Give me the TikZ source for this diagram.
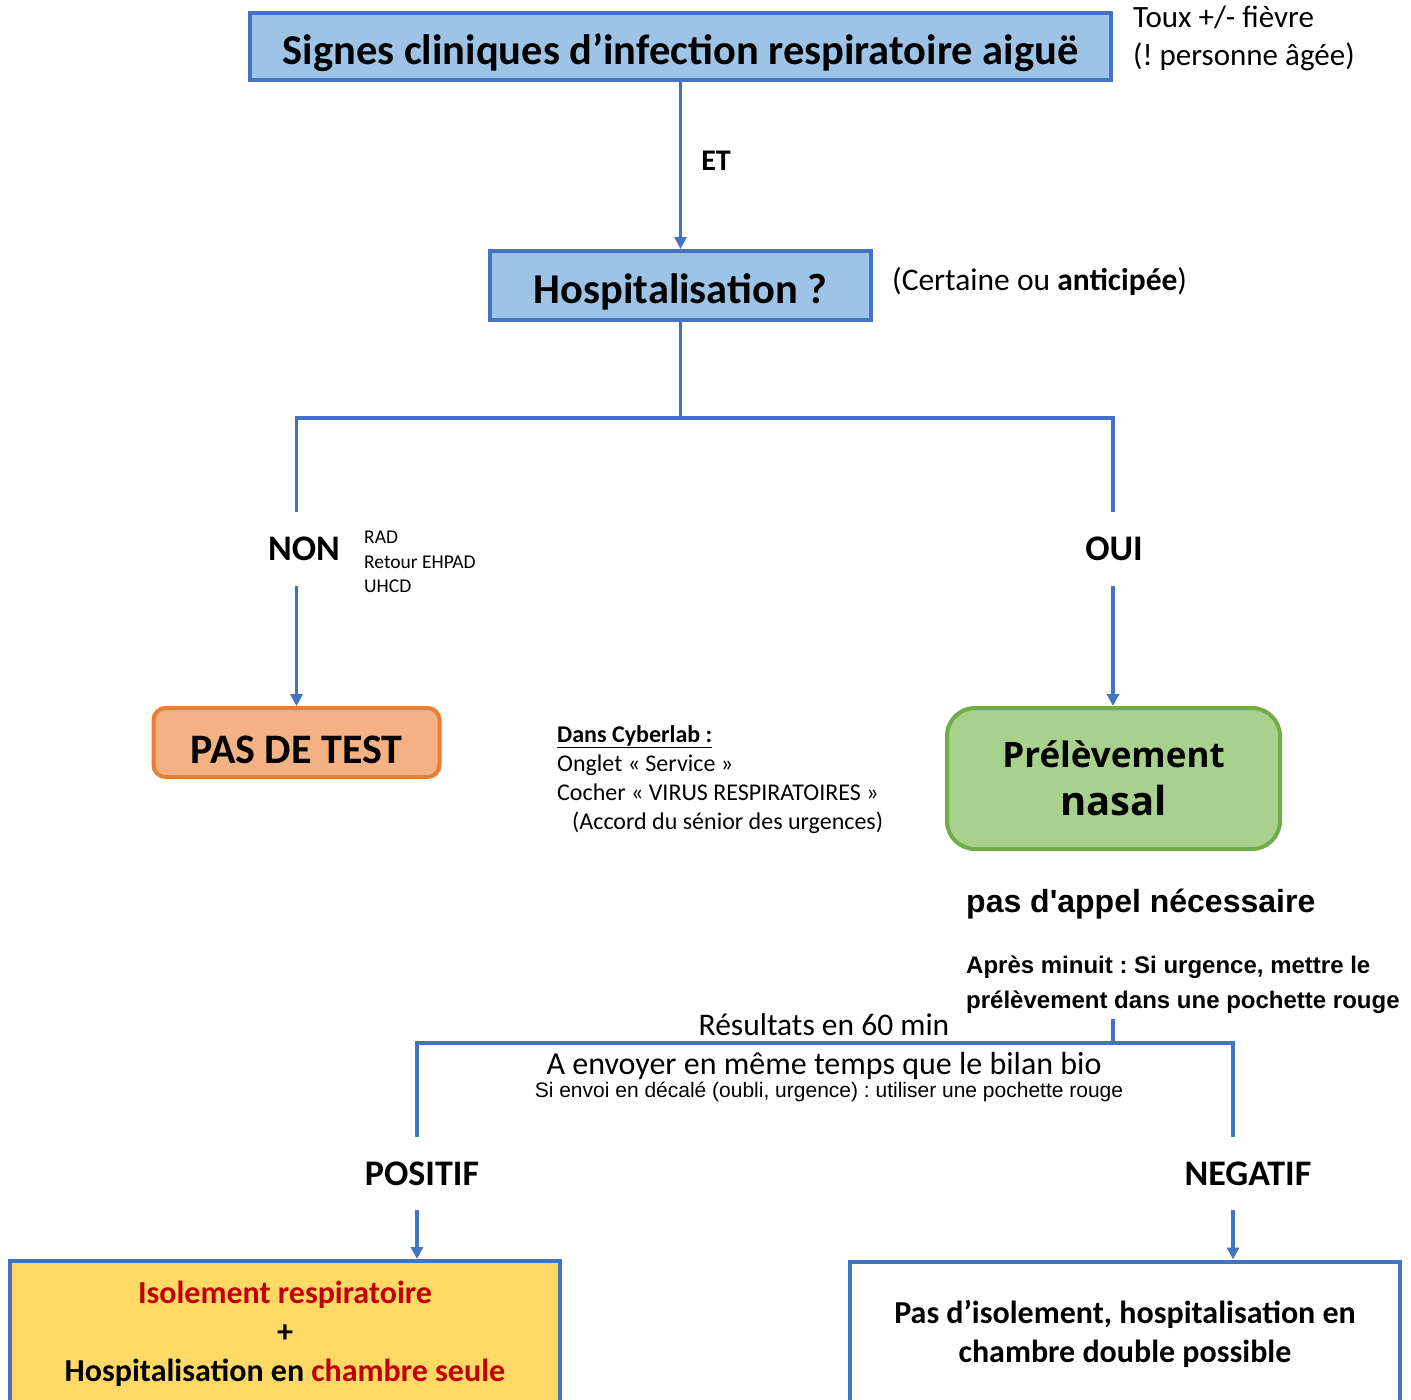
\documentclass[tikz,border=0pt]{standalone}
\usepackage{fontspec}
\setmainfont{Carlito}
\newfontfamily\arialf{Liberation Sans}
\newfontfamily\notof{Open Sans}
\usetikzlibrary{arrows.meta,calc}
\definecolor{cblue}{HTML}{4472C4}
\definecolor{lblue}{HTML}{9DC3E6}
\definecolor{corange}{HTML}{ED7D31}
\definecolor{lorange}{HTML}{F4B183}
\definecolor{cgreen}{HTML}{70AD47}
\definecolor{lgreen}{HTML}{A9D18E}
\definecolor{lyellow}{HTML}{FFD966}
\definecolor{cred}{HTML}{C00000}
\newcommand{\fsz}[2]{\fontsize{#1}{#2}\selectfont}
\frenchspacing
\begin{document}
\begin{tikzpicture}[x=1pt,y=-1pt,
  conn/.style={draw=cblue, line width=3.5pt},
  arr/.style={conn, -{Triangle[width=12pt,length=12pt]}},
  bluebox/.style={draw=cblue, fill=lblue, line width=4pt, inner sep=0pt, text height=35pt, text depth=0pt, font=\bfseries\fsz{42.5}{50}},
  lbl/.style={inner sep=0pt},
  branch/.style={inner sep=0pt, minimum height=74pt, font=\bfseries\fsz{36}{42}},
  outbox/.style={draw=cblue, line width=4pt, inner sep=0pt, minimum width=550pt, minimum height=145pt, align=center, font=\bfseries\fsz{32}{39}}
]
\useasboundingbox (0,0) rectangle (1411,1400);

% top box
\node[bluebox, minimum width=861pt, minimum height=67pt] (signes) at (680.5,46.5) {Signes cliniques d’infection respiratoire aiguë};
\node[lbl, anchor=west, align=left, font=\fsz{31}{38}] (toux) at (1133,38.5) {Toux +/- fièvre\\(! personne âgée)};

% hospitalisation
\node[bluebox, minimum width=381pt, minimum height=69pt] (hosp) at (680.5,285.5) {Hospitalisation ?};
\node[lbl, anchor=west, font=\fsz{31.5}{38}] (cert) at (892,281) {(Certaine ou \textbf{anticipée})};
\draw[arr] (signes.south) -- node[lbl, anchor=west, xshift=19pt, yshift=5pt, font=\bfseries\fsz{30}{36}] (et) {ET} (hosp.north);

% first branch
\coordinate (bj) at (680.5,418);
\coordinate (bl) at (296.5,418);
\coordinate (br) at (1113,418);
\node[branch] (non) at (304,549) {NON};
\node[branch] (oui) at (1114,549) {OUI};
\node[lbl, anchor=west, align=left, font=\fsz{19.5}{24.5}] (rad) at (364,562) {RAD\\Retour EHPAD\\UHCD};
\draw[conn] (hosp.south) -- (bj);
\draw[conn] (bl |- non.north) -- (bl) -- (br) -- (br |- oui.north);

% pas de test
\node[draw=corange, fill=lorange, line width=4pt, rounded corners=12pt, minimum width=286pt, minimum height=69pt, inner sep=0pt, text height=41pt, text depth=0pt, font=\bfseries\fsz{42}{50}] (pas) at (296.5,742.5) {PAS DE TEST};
\draw[arr] (bl |- non.south) -- (pas.north);

% prelevement
\node[draw=cgreen, fill=lgreen, line width=4pt, rounded corners=28pt, minimum width=333pt, minimum height=141pt, inner sep=0pt, align=center, font=\notof\bfseries\fsz{35}{48}] (prel) at (1113.5,778.5) {Prélèvement\\{\fsz{40}{48}nasal}};
\draw[arr] (br |- oui.south) -- (prel.north -| br);

% cyberlab
\node[lbl, anchor=west, align=left, font=\fsz{24}{29}] (cyber) at (557,779.5) {\textbf{\underline{Dans Cyberlab :}}\\Onglet « Service »\\Cocher « VIRUS RESPIRATOIRES »\\\hspace*{15pt}(Accord du sénior des urgences)};

% notes
\node[lbl, anchor=west, font=\arialf\bfseries\fsz{32}{38}] (appel) at (966,904) {pas d'appel nécessaire};
\node[lbl, anchor=west, align=left, font=\arialf\bfseries\fsz{24}{35}] (apres) at (966,985) {Après minuit : Si urgence, mettre le\\prélèvement dans une pochette rouge};

% second branch
\coordinate (cj) at (1113,1043);
\coordinate (ct) at (1113,1019);
\coordinate (cl) at (417,1043);
\coordinate (cr) at (1233,1043);
\node[lbl, font=\fsz{31.5}{38}] (res) at (824,1025) {Résultats en 60 min};
\node[lbl, font=\fsz{32}{38}] (env) at (824,1066) {A envoyer en même temps que le bilan bio};
\node[lbl, font=\arialf\fsz{21}{25}] (decal) at (829,1092) {Si envoi en décalé (oubli, urgence) : utiliser une pochette rouge};
\node[branch, minimum height=73pt] (posi) at (422,1173.5) {POSITIF};
\node[branch, minimum height=73pt] (nega) at (1248,1173.5) {NEGATIF};
\draw[conn] (ct) -- (cj);
\draw[conn] (cl |- posi.north) -- (cl) -- (cr) -- (cr |- nega.north);

% outcomes
\node[outbox, fill=lyellow] (iso) at (285,1333.5) {\textcolor{cred}{Isolement respiratoire}\\+\\Hospitalisation en \textcolor{cred}{chambre seule}};
\node[outbox, fill=white] (dbl) at (1125,1334) {Pas d’isolement, hospitalisation en\\chambre double possible};
\draw[arr] (cl |- posi.south) -- (cl |- iso.north);
\draw[arr] (cr |- nega.south) -- (cr |- dbl.north);
\end{tikzpicture}
\end{document}
